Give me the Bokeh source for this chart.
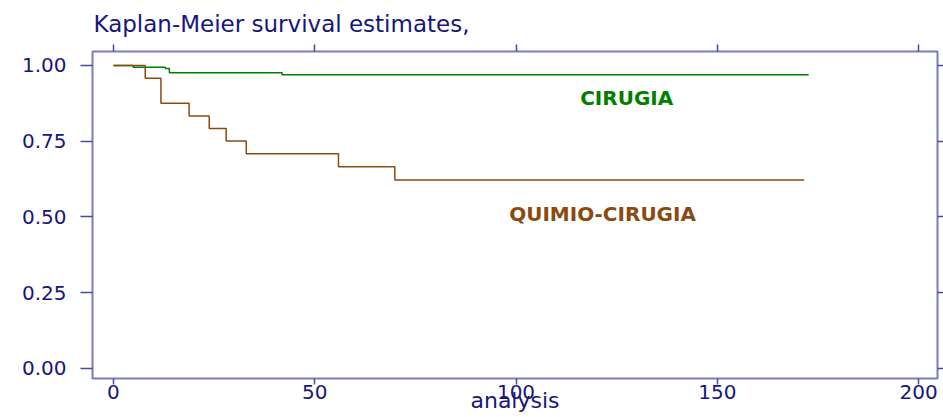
from bokeh.plotting import figure
from bokeh.models import FixedTicker, LinearAxis, Label, NumeralTickFormatter
from bokeh.embed import file_html
from bokeh.resources import INLINE

# Kaplan-Meier step data (time, survival)
cir_time = [0, 4.9, 12.9, 13.9, 41.9, 172.7]
cir_surv = [1.0, 0.994, 0.990, 0.976, 0.969, 0.969]
qc_time = [0, 7.9, 11.8, 18.8, 23.8, 28.0, 33.0, 55.9, 69.9, 171.6]
qc_surv = [1.0, 0.958, 0.875, 0.833, 0.792, 0.750, 0.708, 0.665, 0.622, 0.622]

x_ticks = [0, 50, 100, 150, 200]
y_ticks = [0.0, 0.25, 0.5, 0.75, 1.0]

title_text = "Kaplan-Meier survival estimates,"
x_label = "analysis"
series_names = ["CIRUGIA", "QUIMIO-CIRUGIA"]
name_pos = [(127.5, 0.891), (121.5, 0.508)]

NAVY = "#16167c"
FRAME = "#7b7bc2"
TICK = "#4a4aa6"
GREEN = "#008000"
BROWN = "#8B4A10"
FONT = "DejaVu Sans"

p = figure(width=943, height=417, output_backend="svg", toolbar_location=None,
           x_range=(-5.2, 204.7), y_range=(-0.034, 1.046),
           min_border_left=92, min_border_right=6, min_border_top=51,
           min_border_bottom=39, x_axis_location=None, y_axis_location=None,
           title=title_text)
p.title.align = "left"
p.title.text_font = FONT
p.title.text_font_size = "23px"
p.title.text_font_style = "normal"
p.title.text_color = NAVY
p.title.standoff = 15
p.title.offset = 1
p.xgrid.visible = False
p.ygrid.visible = False
p.outline_line_color = FRAME
p.outline_line_width = 2
p.background_fill_color = "white"
p.border_fill_color = "white"


def style_axis(ax, ticks, show_labels, tick_out, standoff):
    ax.ticker = FixedTicker(ticks=ticks)
    ax.axis_line_color = None
    ax.major_tick_line_color = TICK
    ax.major_tick_line_width = 1.5
    ax.major_tick_in = 0
    ax.major_tick_out = tick_out
    ax.minor_tick_line_color = None
    ax.major_label_standoff = standoff
    if show_labels:
        ax.major_label_text_font = FONT
        ax.major_label_text_font_size = "20px"
        ax.major_label_text_color = NAVY
    else:
        ax.major_label_text_font_size = "0px"
        ax.major_label_text_alpha = 0


left = LinearAxis()
style_axis(left, y_ticks, True, 12, 14)
left.formatter = NumeralTickFormatter(format="0.00")
p.add_layout(left, "left")

right = LinearAxis()
style_axis(right, y_ticks, False, 6, 0)
p.add_layout(right, "right")

bottom = LinearAxis(axis_label=x_label)
style_axis(bottom, x_ticks, True, 6, 0)
bottom.axis_label_text_font = FONT
bottom.axis_label_text_font_size = "22px"
bottom.axis_label_text_font_style = "normal"
bottom.axis_label_text_color = NAVY
bottom.axis_label_standoff = -14
p.add_layout(bottom, "below")

top = LinearAxis()
style_axis(top, x_ticks, False, 7, 0)
p.add_layout(top, "above")

p.step(cir_time, cir_surv, mode="after", line_color=GREEN, line_width=1.5)
p.step(qc_time, qc_surv, mode="after", line_color=BROWN, line_width=1.5)

for name, (tx, ty), col in zip(series_names, name_pos, [GREEN, BROWN]):
    p.add_layout(Label(x=tx, y=ty, text=name, text_color=col, text_font=FONT,
                       text_font_style="bold", text_font_size="20px",
                       text_align="center", text_baseline="middle"))

open("out.html", "w").write(file_html(p, INLINE))
